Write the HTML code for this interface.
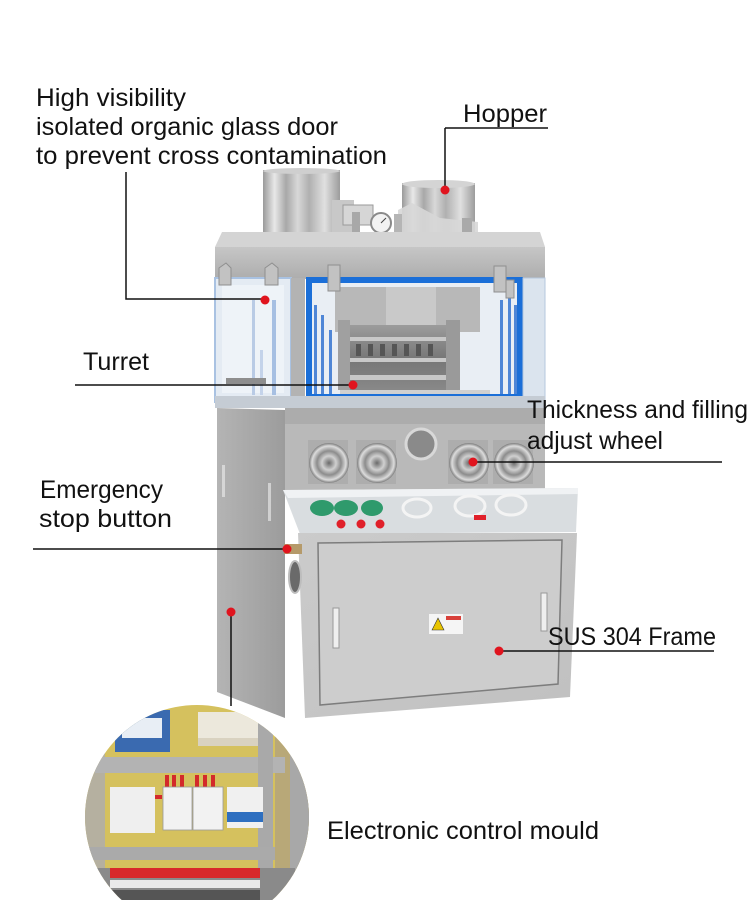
<!DOCTYPE html>
<html><head><meta charset="utf-8"><style>
html,body{margin:0;padding:0;background:#fff;}
svg{display:block;}
text{font-family:"Liberation Sans","DejaVu Sans",sans-serif;font-size:25px;fill:#111;}
</style></head><body>
<svg width="750" height="900" viewBox="0 0 750 900" xmlns="http://www.w3.org/2000/svg">
<defs>
<linearGradient id="cyl" x1="0" x2="1" y1="0" y2="0">
<stop offset="0" stop-color="#9a9a9a"/><stop offset="0.15" stop-color="#e8e8e8"/><stop offset="0.3" stop-color="#a8a8a8"/><stop offset="0.45" stop-color="#d8d8d8"/><stop offset="0.6" stop-color="#b0b0b0"/><stop offset="0.8" stop-color="#e0e0e0"/><stop offset="1" stop-color="#9c9c9c"/>
</linearGradient>
<linearGradient id="front" x1="0" x2="0" y1="0" y2="1"><stop offset="0" stop-color="#c6c6c6"/><stop offset="1" stop-color="#adadad"/></linearGradient>
<linearGradient id="side" x1="0" x2="1" y1="0" y2="0"><stop offset="0" stop-color="#b4b4b4"/><stop offset="1" stop-color="#9c9c9c"/></linearGradient>
<linearGradient id="cab" x1="0" x2="1" y1="0" y2="1"><stop offset="0" stop-color="#cbcbcb"/><stop offset="1" stop-color="#c0c0c0"/></linearGradient>
<linearGradient id="turret" x1="0" x2="0" y1="0" y2="1"><stop offset="0" stop-color="#9c9c9c"/><stop offset="0.5" stop-color="#767676"/><stop offset="1" stop-color="#8a8a8a"/></linearGradient>
<radialGradient id="wheel" cx="0.5" cy="0.5" r="0.5"><stop offset="0" stop-color="#6a6a6a"/><stop offset="0.35" stop-color="#d0d0d0"/><stop offset="0.6" stop-color="#8c8c8c"/><stop offset="0.85" stop-color="#dcdcdc"/><stop offset="1" stop-color="#7c7c7c"/></radialGradient>
<clipPath id="circ"><circle cx="197" cy="817" r="112"/></clipPath>
</defs>

<!-- hoppers -->
<rect x="263" y="170" width="77" height="64" fill="url(#cyl)"/>
<ellipse cx="301.5" cy="171" rx="38.5" ry="3" fill="#cfcfcf"/>
<rect x="332" y="200" width="22" height="34" fill="#c8c8c8"/>
<rect x="343" y="205" width="30" height="20" fill="#d6d6d6" stroke="#9a9a9a" stroke-width="1"/>
<rect x="352" y="212" width="8" height="22" fill="#a8a8a8"/>
<circle cx="381" cy="223" r="10" fill="#f2f2f2" stroke="#8a8a8a" stroke-width="2"/>
<line x1="381" y1="223" x2="386" y2="218" stroke="#444" stroke-width="1"/>
<rect x="402" y="183" width="73" height="50" fill="url(#cyl)"/>
<ellipse cx="438.5" cy="184" rx="36.5" ry="4" fill="#d4d4d4"/>
<polygon points="398,234 398,210 412,203 440,218 478,222 478,234" fill="#d7d7d7" opacity="0.9"/>
<rect x="394" y="214" width="8" height="20" fill="#b5b5b5"/>
<rect x="462" y="218" width="10" height="16" fill="#a9a9a9"/>

<!-- top plate -->
<polygon points="215,247 222,232 540,232 545,247" fill="#d4d4d4"/>
<rect x="215" y="247" width="330" height="32" fill="url(#front)"/>

<!-- left glass -->
<rect x="215" y="278" width="76" height="124" fill="#e4ebf3" stroke="#a9c2e2" stroke-width="2"/>
<rect x="222" y="285" width="62" height="108" fill="#eef3f8"/>
<rect x="252" y="300" width="3" height="95" fill="#b9cbe5"/>
<rect x="272" y="300" width="4" height="95" fill="#a6bfe2"/>
<rect x="260" y="350" width="3" height="45" fill="#c4d3ea"/>
<rect x="226" y="378" width="40" height="6" fill="#8e8e8e"/>
<rect x="291" y="278" width="14" height="124" fill="#b3b3b3"/>
<!-- center blue window -->
<rect x="306" y="277" width="217" height="123" fill="#e9eef4"/>
<rect x="335" y="287" width="145" height="45" fill="#b8b8b8"/>
<rect x="386" y="287" width="50" height="40" fill="#c9c9c9"/>
<rect x="338" y="320" width="12" height="70" fill="#a0a0a0"/>
<rect x="446" y="320" width="14" height="72" fill="#9a9a9a"/>
<rect x="350" y="325" width="96" height="68" fill="url(#turret)"/>
<g fill="#c8c8c8">
<rect x="350" y="337" width="96" height="4"/><rect x="350" y="358" width="96" height="4"/><rect x="350" y="375" width="96" height="5"/>
</g>
<g fill="#555">
<rect x="356" y="344" width="5" height="12"/><rect x="368" y="344" width="5" height="12"/><rect x="380" y="344" width="5" height="12"/><rect x="392" y="344" width="5" height="12"/><rect x="404" y="344" width="5" height="12"/><rect x="416" y="344" width="5" height="12"/><rect x="428" y="344" width="5" height="12"/>
</g>
<rect x="340" y="390" width="150" height="6" fill="#d0d0d0"/>
<g fill="#4f86d6">
<rect x="314" y="305" width="3" height="90"/><rect x="321" y="315" width="3" height="80"/><rect x="329" y="330" width="3" height="65"/>
<rect x="500" y="300" width="3" height="95"/><rect x="508" y="290" width="3" height="105"/><rect x="514" y="305" width="3" height="90"/>
</g>
<rect x="309" y="280" width="211" height="117" fill="none" stroke="#1b6fd8" stroke-width="6"/>
<rect x="523" y="278" width="22" height="124" fill="#dbe4ee" stroke="#b6c7dd" stroke-width="1"/>
<!-- hinges -->
<g fill="#c2c2c2" stroke="#8f8f8f" stroke-width="1">
<polygon points="219,268 226,263 231,268 231,285 219,285"/>
<polygon points="265,268 272,263 278,268 278,285 265,285"/>
<rect x="328" y="265" width="12" height="26"/>
<rect x="494" y="266" width="12" height="26"/>
<rect x="506" y="280" width="8" height="18"/>
</g>
<rect x="215" y="396" width="330" height="12" fill="#c5ccd4"/>

<!-- lower body -->
<polygon points="217,408 285,410 285,718 217,692" fill="url(#side)"/>
<rect x="222" y="465" width="3" height="32" fill="#d6d6d6"/>
<rect x="268" y="483" width="3" height="38" fill="#d0d0d0"/>
<rect x="285" y="408" width="260" height="82" fill="#b9b9b9"/>
<rect x="285" y="408" width="260" height="16" fill="#acacac"/>
<g>
<rect x="308" y="440" width="40" height="44" fill="#adadad"/>
<rect x="356" y="440" width="40" height="44" fill="#adadad"/>
<rect x="448" y="440" width="40" height="44" fill="#adadad"/>
<rect x="493" y="440" width="40" height="44" fill="#adadad"/>
<circle cx="329" cy="463" r="20" fill="url(#wheel)"/>
<circle cx="377" cy="463" r="20" fill="url(#wheel)"/>
<circle cx="421" cy="444" r="15" fill="#8a8a8a" stroke="#d8d8d8" stroke-width="3"/>
<circle cx="469" cy="463" r="20" fill="url(#wheel)"/>
<circle cx="514" cy="463" r="20" fill="url(#wheel)"/>
</g>
<!-- control panel glass -->
<polygon points="283,490 578,488 576,532 300,534" fill="#d9dde0"/>
<polygon points="283,490 578,488 578,494 288,498" fill="#f0f2f4"/>
<g fill="#2f9a6c"><ellipse cx="322" cy="508" rx="12" ry="8"/><ellipse cx="346" cy="508" rx="12" ry="8"/><ellipse cx="372" cy="508" rx="11" ry="8"/></g>
<g fill="none" stroke="#f4f4f4" stroke-width="3"><ellipse cx="417" cy="508" rx="14" ry="9"/><ellipse cx="470" cy="506" rx="15" ry="10"/><ellipse cx="511" cy="505" rx="15" ry="10"/></g>
<g fill="#e0202a"><circle cx="341" cy="524" r="4.5"/><circle cx="361" cy="524" r="4.5"/><circle cx="380" cy="524" r="4.5"/><rect x="474" y="515" width="12" height="5"/></g>
<!-- cabinet -->
<polygon points="298,533 577,533 570,697 305,718" fill="url(#cab)"/>
<polygon points="318,543 562,540 558,684 320,705" fill="#cdcdcd" stroke="#7d7d7d" stroke-width="1.5"/>
<rect x="333" y="608" width="6" height="40" fill="#efefef" stroke="#999" stroke-width="1"/>
<rect x="541" y="593" width="6" height="38" fill="#efefef" stroke="#999" stroke-width="1"/>
<rect x="429" y="614" width="34" height="20" fill="#f5f5f5"/>
<polygon points="432,630 438,618 444,630" fill="#e8c400" stroke="#333" stroke-width="0.6"/>
<rect x="446" y="616" width="15" height="4" fill="#d8403a"/>
<ellipse cx="295" cy="577" rx="6" ry="16" fill="#6a6a6a" stroke="#bdbdbd" stroke-width="2"/>
<rect x="284" y="544" width="18" height="10" fill="#b59a6a"/>

<!-- inset circle -->
<g clip-path="url(#circ)">
<rect x="80" y="700" width="240" height="220" fill="#d5c15e"/>
<rect x="80" y="700" width="25" height="220" fill="#b5b0a0"/>
<rect x="275" y="700" width="45" height="220" fill="#b8a878"/>
<rect x="290" y="700" width="30" height="220" fill="#a8a8a8"/>
<rect x="115" y="710" width="55" height="42" fill="#3a6ab0"/>
<rect x="122" y="718" width="40" height="20" fill="#e8eef5"/>
<rect x="198" y="712" width="65" height="34" fill="#ece8dc"/>
<rect x="198" y="738" width="65" height="8" fill="#d9d2c0"/>
<rect x="95" y="757" width="190" height="16" fill="#b3b3b3"/>
<rect x="258" y="720" width="15" height="150" fill="#a9a9a9"/>
<g fill="#d32a2a"><rect x="165" y="775" width="4" height="12"/><rect x="172" y="775" width="4" height="12"/><rect x="180" y="775" width="4" height="12"/><rect x="195" y="775" width="4" height="12"/><rect x="203" y="775" width="4" height="12"/><rect x="211" y="775" width="4" height="12"/><rect x="150" y="795" width="12" height="4"/></g>
<rect x="110" y="787" width="45" height="46" fill="#efefef"/>
<rect x="163" y="787" width="29" height="43" fill="#f2f2f2" stroke="#999" stroke-width="0.8"/>
<rect x="193" y="787" width="30" height="43" fill="#f2f2f2" stroke="#999" stroke-width="0.8"/>
<rect x="227" y="787" width="36" height="41" fill="#f0f0f0"/>
<rect x="227" y="812" width="36" height="10" fill="#2e6fc0"/>
<rect x="88" y="847" width="187" height="13" fill="#aaaaaa"/>
<rect x="95" y="868" width="200" height="40" fill="#8a8a8a"/>
<g fill="#d8282a"><rect x="110" y="868" width="150" height="10"/></g>
<g fill="#eaeaea"><rect x="110" y="880" width="150" height="8"/></g>
<g fill="#555"><rect x="110" y="890" width="150" height="10"/></g>
</g>

<!-- leader lines -->
<g stroke="#111" stroke-width="1.5" fill="none">
<polyline points="126,172 126,299 265,299"/>
<line x1="445" y1="128" x2="548" y2="128"/>
<line x1="445" y1="128" x2="445" y2="190"/>
<line x1="75" y1="385" x2="353" y2="385"/>
<line x1="33" y1="549" x2="287" y2="549"/>
<line x1="473" y1="462" x2="722" y2="462"/>
<line x1="499" y1="651" x2="714" y2="651"/>
<line x1="231" y1="612" x2="231" y2="706"/>
</g>
<g fill="#e0141e">
<circle cx="265" cy="300" r="4.5"/>
<circle cx="445" cy="190" r="4.5"/>
<circle cx="353" cy="385" r="4.5"/>
<circle cx="287" cy="549" r="4.5"/>
<circle cx="473" cy="462" r="4.5"/>
<circle cx="499" cy="651" r="4.5"/>
<circle cx="231" cy="612" r="4.5"/>
</g>

<!-- labels -->
<text x="36" y="106" textLength="150" lengthAdjust="spacingAndGlyphs">High visibility</text>
<text x="36" y="135" textLength="302" lengthAdjust="spacingAndGlyphs">isolated organic glass door</text>
<text x="36" y="164" textLength="351" lengthAdjust="spacingAndGlyphs">to prevent cross contamination</text>
<text x="463" y="122" textLength="84" lengthAdjust="spacingAndGlyphs">Hopper</text>
<text x="83" y="370" textLength="66" lengthAdjust="spacingAndGlyphs">Turret</text>
<text x="40" y="498" textLength="123" lengthAdjust="spacingAndGlyphs">Emergency</text>
<text x="39" y="527" textLength="133" lengthAdjust="spacingAndGlyphs">stop button</text>
<text x="527" y="418" textLength="221" lengthAdjust="spacingAndGlyphs">Thickness and filling</text>
<text x="527" y="449" textLength="136" lengthAdjust="spacingAndGlyphs">adjust wheel</text>
<text x="548" y="645" textLength="168" lengthAdjust="spacingAndGlyphs">SUS 304 Frame</text>
<text x="327" y="839" textLength="272" lengthAdjust="spacingAndGlyphs">Electronic control mould</text>
</svg>
</body></html>
